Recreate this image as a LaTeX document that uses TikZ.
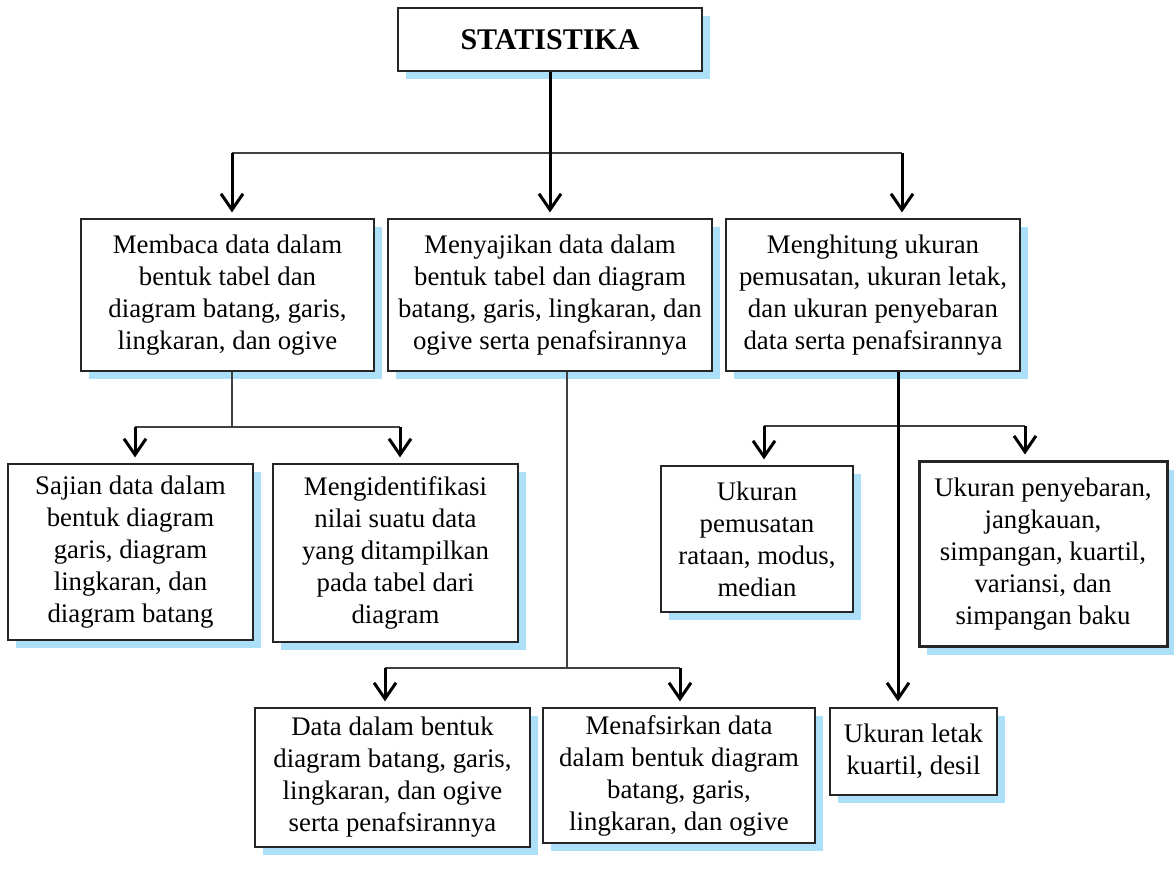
\documentclass[tikz,border=0pt]{standalone}
\usepackage{fontspec}
\setmainfont{Liberation Serif}
\usetikzlibrary{arrows.meta,shadows}
\definecolor{shadowblue}{RGB}{172,224,248}

\begin{document}
\begin{tikzpicture}[x=0.5pt,y=-0.5pt,
  box/.style={draw=black!85, fill=white, line width=0.6pt, align=center, inner sep=0pt,
    font=\fontsize{13.4}{16}\selectfont,
    drop shadow={shadow xshift=4pt, shadow yshift=-4pt, fill=shadowblue, opacity=1}},
  sz/.style 2 args={minimum width=#1*0.5pt, minimum height=#2*0.5pt},
  bus/.style={draw=black!75, line width=0.6pt},
  arr/.style={line width=1.5pt, -{Straight Barb[length=8pt,width=11pt]}, shorten >=3pt}]
\useasboundingbox (0,0) rectangle (1174,876);

\node[box, sz={304}{63}, font=\fontsize{15}{18}\selectfont\bfseries] (stat) at (550,39.5) {STATISTIKA};

\node[box, sz={293}{152}] (baca) at (227.5,295) {Membaca data dalam\\bentuk tabel dan\\diagram batang, garis,\\lingkaran, dan ogive};
\node[box, sz={324}{152}] (saji) at (550,295) {Menyajikan data dalam\\bentuk tabel dan diagram\\batang, garis, lingkaran, dan\\ogive serta penafsirannya};
\node[box, sz={294}{152}] (hitung) at (873,295) {Menghitung ukuran\\pemusatan, ukuran letak,\\dan ukuran penyebaran\\data serta penafsirannya};

\node[box, sz={245}{176}] (sajian) at (130.5,552) {Sajian data dalam\\bentuk diagram\\garis, diagram\\lingkaran, dan\\diagram batang};
\node[box, sz={245}{178}] (identif) at (395.5,553) {Mengidentifikasi\\nilai suatu data\\yang ditampilkan\\pada tabel dari\\diagram};

\node[box, sz={275}{139}] (datadlm) at (392.5,777.5) {Data dalam bentuk\\diagram batang, garis,\\lingkaran, dan ogive\\serta penafsirannya};
\node[box, sz={272}{135}] (tafsir) at (679,775.5) {Menafsirkan data\\dalam bentuk diagram\\batang, garis,\\lingkaran, dan ogive};

\node[box, sz={192}{146}] (pusat) at (757,539) {Ukuran\\pemusatan\\rataan, modus,\\median};
\node[box, sz={248}{185}, line width=1.5pt] (sebar) at (1043,554.5) {Ukuran penyebaran,\\jangkauan,\\simpangan, kuartil,\\variansi, dan\\simpangan baku};
\node[box, sz={167}{87}] (letak) at (913.5,751.5) {Ukuran letak\\kuartil, desil};

\coordinate (t1) at (232,153);
\coordinate (t2) at (902,153);
\draw[bus] (t1) -- (t2);
\draw[arr] (stat) -- (saji);
\draw[arr] (t1) -- (t1 |- baca.north);
\draw[arr] (t2) -- (t2 |- hitung.north);

\coordinate (m1) at (232,427);
\coordinate (l1) at (135,427);
\coordinate (r1) at (400,427);
\draw[bus] (baca.south -| m1) -- (m1);
\draw[bus] (l1) -- (r1);
\draw[arr] (l1) -- (l1 |- sajian.north);
\draw[arr] (r1) -- (r1 |- identif.north);

\coordinate (m2) at (567,668);
\coordinate (l2) at (385,668);
\coordinate (r2) at (680,668);
\draw[bus] (saji.south -| m2) -- (m2);
\draw[bus] (l2) -- (r2);
\draw[arr] (l2) -- (l2 |- datadlm.north);
\draw[arr] (r2) -- (r2 |- tafsir.north);

\coordinate (m3) at (898,426);
\coordinate (l3) at (764,426);
\coordinate (r3) at (1025,426);
\draw[bus] (l3) -- (r3);
\draw[arr] (hitung.south -| m3) -- (m3 |- letak.north);
\draw[arr] (l3) -- (l3 |- pusat.north);
\draw[arr] (r3) -- (r3 |- sebar.north);

\end{tikzpicture}
\end{document}
